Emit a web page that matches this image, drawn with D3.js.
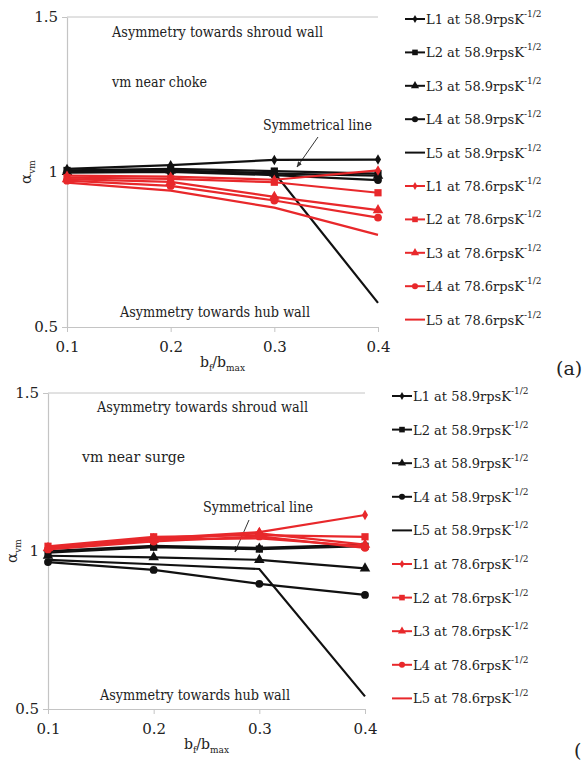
<!DOCTYPE html>
<html>
<head>
<meta charset="utf-8">
<script src="https://cdn.jsdelivr.net/npm/d3@7/dist/d3.min.js"></script>
<style>
  html, body { margin: 0; padding: 0; background: #fff; }
</style>
</head>
<body>
<svg id="chart" width="583" height="764"></svg>
<script>
// ---------- DATA ----------
const xValues = [0.1, 0.2, 0.3, 0.4];
const xTickLabels = ["0.1", "0.2", "0.3", "0.4"];
const yTickValues = [0.5, 1, 1.5];
const yTickLabels = ["0.5", "1", "1.5"];
const seriesNames = ["L1", "L2", "L3", "L4", "L5"];
const speeds = ["58.9", "78.6"];

// (a) vm near choke
const chokeSpeed589 = [
  [1.010, 1.022, 1.039, 1.040],  // L1
  [1.005, 1.010, 1.003, 0.995],  // L2
  [1.000, 1.005, 0.995, 0.988],  // L3
  [0.998, 1.000, 0.990, 0.974],  // L4
  [1.002, 1.003, 0.997, 0.578]   // L5
];
const chokeSpeed786 = [
  [0.988, 0.985, 0.975, 1.005],  // L1
  [0.982, 0.978, 0.967, 0.933],  // L2
  [0.977, 0.968, 0.920, 0.877],  // L3
  [0.972, 0.955, 0.908, 0.853],  // L4
  [0.966, 0.940, 0.885, 0.797]   // L5
];

// (b) vm near surge
const surgeSpeed589 = [
  [1.000, 1.016, 1.010, 1.020],  // L1
  [0.995, 1.012, 1.006, 1.015],  // L2
  [0.985, 0.980, 0.972, 0.945],  // L3
  [0.965, 0.940, 0.896, 0.861],  // L4
  [0.972, 0.958, 0.943, 0.540]   // L5
];
const surgeSpeed786 = [
  [1.010, 1.040, 1.060, 1.114],  // L1
  [1.015, 1.045, 1.050, 1.045],  // L2
  [1.010, 1.035, 1.056, 1.020],  // L3
  [1.005, 1.030, 1.046, 1.010],  // L4
  [1.010, 1.036, 1.040, 1.015]   // L5
];

// ---------- STYLE ----------
const FONT = "DejaVu Serif";
const TXT = "#222";
const BLACK = "#111111";
const RED = "#e8282b";
const AXIS = "#c4c4c4";
const symbolTypes = [d3.symbolDiamond, d3.symbolSquare, d3.symbolTriangle, d3.symbolCircle, null];
const symbolSizes = [32, 52, 48, 48, 0];

const svg = d3.select("#chart");
svg.append("defs").append("marker")
  .attr("id", "arrow").attr("viewBox", "0 0 10 10")
  .attr("refX", 9).attr("refY", 5)
  .attr("markerWidth", 6).attr("markerHeight", 6)
  .attr("orient", "auto-start-reverse")
  .append("path").attr("d", "M0,1 L10,5 L0,9 z").attr("fill", "#333");

function txt(sel) {
  return sel.append("text").style("font-family", FONT).attr("fill", TXT);
}

function drawChart(cfg) {
  const x = d3.scaleLinear().domain([0.1, 0.4]).range([cfg.left, cfg.right]);
  const y = d3.scaleLinear().domain([0.5, 1.5]).range([cfg.bottom, cfg.top]);
  const g = svg.append("g");

  g.append("line").attr("x1", cfg.left).attr("x2", cfg.right)
    .attr("y1", y(1.5)).attr("y2", y(1.5)).attr("stroke", AXIS).attr("stroke-width", 1);

  const xAxis = d3.axisBottom(x).tickValues(xValues).tickFormat((d, i) => xTickLabels[i]).tickSize(5).tickSizeOuter(0);
  const xg = g.append("g").attr("transform", `translate(0,${cfg.bottom})`).call(xAxis);
  xg.select(".domain").attr("stroke", AXIS).attr("stroke-width", 1.2);
  xg.selectAll(".tick line").attr("stroke", AXIS);
  xg.selectAll(".tick text").attr("font-size", 15).attr("dy", 0).attr("y", 25)
    .style("font-family", FONT).attr("fill", TXT);

  const yAxis = d3.axisLeft(y).tickValues(yTickValues).tickFormat((d, i) => yTickLabels[i]).tickSize(5).tickSizeOuter(0);
  const yg = g.append("g").attr("transform", `translate(${cfg.left},0)`).call(yAxis);
  yg.select(".domain").attr("stroke", AXIS).attr("stroke-width", 1.2);
  yg.selectAll(".tick line").attr("stroke", AXIS);
  yg.selectAll(".tick text").attr("font-size", 15).attr("x", -cfg.tickGap)
    .style("font-family", FONT).attr("fill", TXT);

  const xt = txt(g).attr("x", (cfg.left + cfg.right) / 2).attr("y", cfg.bottom + 40)
    .attr("text-anchor", "middle").attr("font-size", 14);
  xt.append("tspan").text("b");
  xt.append("tspan").attr("font-size", 9).attr("dy", 4).text("f");
  xt.append("tspan").attr("dy", -4).text("/b");
  xt.append("tspan").attr("font-size", 9).attr("dy", 4).text("max");

  const yt = txt(g)
    .attr("transform", `translate(${cfg.yLabelX},${y(1)}) rotate(-90)`)
    .attr("text-anchor", "middle").attr("font-size", 15);
  yt.append("tspan").text("α");
  yt.append("tspan").attr("font-size", 9).attr("dy", 4).text("vm");

  const ann = (p, s) => txt(g).attr("x", p[0]).attr("y", p[1]).attr("font-size", 14.5)
    .attr("textLength", p[2]).attr("lengthAdjust", "spacingAndGlyphs").text(s);
  ann(cfg.shroud, "Asymmetry towards shroud wall");
  ann(cfg.vm, cfg.vmText);
  ann(cfg.sym, "Symmetrical line");
  ann(cfg.hub, "Asymmetry towards hub wall");
  g.append("line").attr("x1", cfg.arrow[0]).attr("y1", cfg.arrow[1])
    .attr("x2", cfg.arrow[2]).attr("y2", cfg.arrow[3])
    .attr("stroke", "#333").attr("stroke-width", 1).attr("marker-end", "url(#arrow)");

  const line = d3.line().x((d, i) => x(xValues[i])).y(d => y(d));
  const groups = [{ data: cfg.low, color: BLACK }, { data: cfg.high, color: RED }];
  groups.forEach(grp => {
    grp.data.forEach((vals, si) => {
      g.append("path").attr("d", line(vals)).attr("fill", "none")
        .attr("stroke", grp.color).attr("stroke-width", 2.2);
      if (symbolTypes[si]) {
        const sym = d3.symbol().type(symbolTypes[si]).size(symbolSizes[si]);
        g.selectAll(null).data(vals).enter().append("path")
          .attr("d", sym)
          .attr("transform", (d, i) => `translate(${x(xValues[i])},${y(d)})`)
          .attr("fill", grp.color);
      }
    });
  });

  const entries = [];
  speeds.forEach((sp, k) => seriesNames.forEach((n, si) => entries.push({ n, sp, si, color: k === 0 ? BLACK : RED })));
  entries.forEach((e, i) => {
    const ly = cfg.legY + i * cfg.legStep;
    const lg = g.append("g").attr("transform", `translate(${cfg.legX},${ly})`);
    lg.append("line").attr("x1", 0).attr("x2", 20).attr("y1", 0).attr("y2", 0)
      .attr("stroke", e.color).attr("stroke-width", 2);
    if (symbolTypes[e.si]) {
      lg.append("path").attr("d", d3.symbol().type(symbolTypes[e.si]).size(symbolSizes[e.si] * 0.6))
        .attr("transform", "translate(10,0)").attr("fill", e.color);
    }
    const t = txt(lg).attr("x", 21).attr("y", 5).attr("font-size", 13);
    t.append("tspan").text(`${e.n} at ${e.sp}rpsK`);
    t.append("tspan").attr("font-size", 9).attr("dy", -7).text("-1/2");
  });

  txt(svg).attr("x", cfg.tag[0]).attr("y", cfg.tag[1]).attr("font-size", 19).text(cfg.tagText);
}

drawChart({
  left: 67, right: 378, top: 17, bottom: 327, tickGap: 9, yLabelX: 31,
  low: chokeSpeed589, high: chokeSpeed786, vmText: "vm near choke",
  shroud: [112, 37, 211], vm: [112, 87, 95], sym: [263, 130, 109], hub: [120, 317, 190],
  arrow: [318, 137, 297, 167],
  legX: 405, legY: 19, legStep: 33.4,
  tag: [556, 375], tagText: "(a)"
});

drawChart({
  left: 48, right: 365, top: 393, bottom: 709, tickGap: 9, yLabelX: 17,
  low: surgeSpeed589, high: surgeSpeed786, vmText: "vm near surge",
  shroud: [97, 412, 211], vm: [82, 462, 103], sym: [203, 512, 110], hub: [100, 700, 190],
  arrow: [249, 520, 235, 552],
  legX: 392, legY: 396, legStep: 33.6,
  tag: [574, 757], tagText: "("
});
</script>
</body>
</html>
